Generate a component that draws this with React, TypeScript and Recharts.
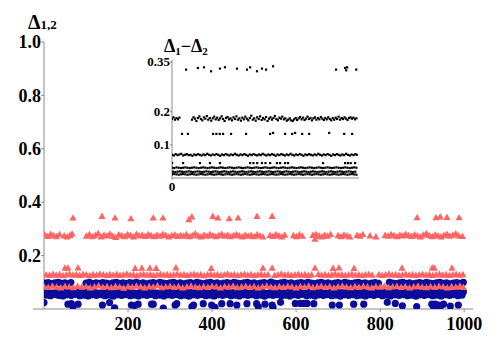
import { ScatterChart, Scatter, XAxis, YAxis, ReferenceLine } from 'recharts';

// main plot: red triangles
const redTop = [[69,.341],[138,.347],[169,.341],[207,.338],[260,.341],[283,.341],[345,.335],[352,.345],[402,.347],[414,.341],[441,.338],[462,.341],[507,.347],[543,.347],[888,.342],[933,.342],[943,.345],[959,.343],[988,.342]];
const redBand28 = [[2,.278],[9,.272],[16,.28],[23,.275],[30,.271],[37,.279],[48,.274],[55,.27],[62,.276],[67,.281],
  [101,.273],[108,.279],[115,.271],[122,.276],[129,.283],[136,.27],[143,.277],[150,.274],[157,.281],[164,.272],[171,.268],[178,.278],[185,.275],[192,.271],[199,.279],[206,.276],[213,.27],[220,.28],[227,.274],[234,.277],[241,.272],[248,.279],[255,.275],[262,.271],[269,.277],[276,.273],[283,.28],[290,.276],[297,.27],[304,.275],[311,.278],[318,.272],[325,.276],[332,.273],[339,.279],[346,.271],[353,.275],[360,.282],[367,.274],[374,.27],[381,.277],[388,.273],[395,.279],[402,.275],[409,.271],[416,.276],[423,.28],[430,.273],[437,.277],[444,.271],[451,.275],[458,.279],[465,.274],[472,.27],[479,.277],[486,.273],[493,.276],[500,.271],[507,.278],[514,.274],[521,.27],
  [538,.276],[545,.272],[552,.279],[559,.274],[566,.27],[573,.277],[594,.275],[601,.271],[608,.278],[615,.273],[640,.276],[645,.262],[647,.28],[654,.274],[661,.27],[668,.277],[675,.273],[682,.279],[700,.275],[707,.271],[714,.277],[721,.274],[728,.27],[745,.276],[752,.273],[759,.279],[776,.274],[790,.27],
  [812,.276],[819,.273],[826,.279],[833,.275],[840,.271],[847,.277],[854,.274],[861,.28],[868,.276],[875,.272],[882,.278],[889,.274],[896,.27],[903,.277],[910,.283],[917,.275],[924,.271],[931,.278],[938,.274],[945,.27],[952,.276],[959,.28],[966,.273],[973,.277],[980,.282],[987,.274],[996,.272]];
const redMid = [[50,.153],[57,.153],[81,.154],[217,.152],[233,.153],[252,.153],[267,.152],[314,.154],[398,.152],[521,.153],[543,.153],[645,.153],[688,.152],[702,.154],[738,.152],[852,.153],[924,.154],[929,.153],[971,.153]];
const redBand13 = [[5,.128],[13,.126],[21,.13],[29,.127],[37,.129],[45,.125],[53,.128],[61,.131],[69,.127],[77,.129],[85,.126],[93,.13],[101,.128],[109,.125],[117,.129],[125,.127],[133,.131],[141,.128],[149,.126],[157,.129],[165,.127],[173,.13],[181,.126],[189,.128],[197,.131],[205,.127],[213,.129],[221,.125],[229,.128],[237,.13],[245,.127],[253,.129],[261,.126],[269,.128],[277,.13],[285,.127],[293,.129],[301,.126],[309,.128],[317,.131],[325,.127],[333,.129],[341,.126],[349,.128],[357,.13],[365,.127],[373,.129],[381,.125],[389,.128],[397,.13],[405,.127],[413,.129],[421,.126],[429,.128],[437,.131],[445,.127],[453,.129],[461,.126],[469,.128],[477,.13],[485,.127],[493,.129],[501,.126],[509,.128],[517,.13],[525,.127],[533,.129],
  [549,.126],[557,.128],[565,.131],[573,.127],[581,.129],[589,.126],[597,.128],[605,.13],[613,.127],[621,.129],[629,.126],[637,.128],[653,.13],[661,.127],[669,.129],[677,.126],[685,.128],[693,.131],[701,.127],[709,.129],[717,.126],[725,.128],[733,.13],[741,.127],[749,.129],[757,.126],[765,.128],[773,.13],[781,.127],[797,.129],[805,.126],[813,.128],[821,.131],[829,.127],[837,.129],[845,.126],[853,.128],[861,.13],[869,.127],[877,.129],[885,.126],[893,.128],[901,.13],[909,.127],[917,.129],[925,.126],[933,.128],[941,.131],[949,.127],[957,.129],[965,.126],[973,.128],[981,.13],[989,.127],[997,.129]];
const redBand08 = [[0,.084],[10,.081],[20,.086],[30,.082],[40,.079],[50,.085],[60,.083],[70,.08],[80,.086],[90,.082],[100,.084],[110,.079],[120,.083],[130,.087],[140,.081],[150,.084],[160,.08],[170,.085],[180,.082],[190,.078],[200,.084],[210,.081],[220,.086],[230,.083],[240,.079],[250,.084],[260,.082],[270,.087],[280,.08],[290,.083],[300,.085],[310,.081],[320,.084],[330,.079],[340,.083],[350,.086],[360,.082],[370,.08],[380,.084],[390,.081],[400,.085],[410,.083],[420,.079],[430,.084],[440,.082],[450,.086],[460,.08],[470,.083],[480,.085],[490,.081],[500,.084],[510,.079],[520,.083],[530,.086],[540,.082],[550,.08],[560,.084],[570,.081],[580,.085],[590,.083],[600,.079],[610,.084],[620,.082],[630,.086],[640,.08],[650,.083],[660,.085],[670,.081],[680,.084],[690,.079],[700,.083],[710,.086],[720,.082],[730,.08],[740,.084],[750,.081],[760,.085],[770,.083],[780,.079],[790,.084],[800,.082],[810,.086],[820,.08],[830,.083],[840,.085],[850,.081],[860,.084],[870,.079],[880,.083],[890,.086],[900,.082],[910,.08],[920,.084],[930,.081],[940,.085],[950,.083],[960,.079],[970,.084],[980,.082],[990,.086],[998,.081]];

// main plot: blue circles
const blueBand10 = [[2,.097],[10,.099],[18,.095],[26,.098],[34,.1],[42,.096],[50,.098],[58,.095],[64,.099],
  [100,.097],[108,.1],[116,.095],[124,.098],[132,.096],[140,.099],[148,.097],[156,.094],[164,.098],[172,.1],[180,.096],[188,.098],[196,.095],[204,.099],[212,.097],[220,.1],[228,.096],[236,.098],[244,.094],[252,.097],[260,.099],[268,.096],[276,.1],[284,.097],[292,.095],[300,.098],[308,.1],[316,.096],[324,.098],[332,.094],[340,.097],[348,.099],[356,.096],[364,.1],[372,.097],[380,.095],[388,.098],[396,.1],[404,.096],[412,.098],[420,.094],[428,.097],[436,.099],[444,.096],[452,.1],[460,.097],[468,.095],[476,.098],[484,.1],[492,.096],[500,.098],[508,.094],[516,.097],[524,.099],[532,.096],[540,.101],[548,.097],[556,.095],[564,.098],[572,.1],[580,.096],[588,.098],[596,.094],[604,.097],[612,.099],[620,.096],[628,.1],[636,.097],[644,.095],[652,.098],[660,.1],[668,.096],[676,.098],[684,.094],[692,.097],[700,.099],[708,.096],[716,.1],[724,.097],[732,.095],[740,.098],[748,.1],[756,.096],[764,.098],[772,.094],[780,.097],[788,.099],[796,.096],
  [822,.1],[830,.097],[838,.095],[846,.098],[854,.1],[862,.096],[870,.098],[878,.094],[886,.097],[894,.099],[902,.096],[910,.1],[918,.097],[926,.095],[934,.098],[942,.1],[950,.096],[958,.098],[966,.094],[974,.097],[982,.099],[990,.096],[998,.1]];
const blueBand06a = [[0,.062],[10,.064],[20,.06],[30,.063],[40,.065],[50,.061],[60,.063],[70,.059],[80,.064],[90,.062],[100,.065],[110,.061],[120,.063],[130,.06],[140,.064],[150,.062],[160,.065],[170,.06],[180,.063],[190,.061],[200,.064],[210,.062],[220,.059],[230,.063],[240,.065],[250,.061],[260,.063],[270,.06],[280,.064],[290,.062],[300,.065],[310,.061],[320,.063],[330,.059],[340,.064],[350,.062],[360,.065],[370,.06],[380,.063],[390,.061],[400,.064],[410,.062],[420,.059],[430,.063],[440,.065],[450,.061],[460,.063],[470,.06],[480,.064],[490,.062],[500,.065],[510,.061],[520,.063],[530,.059],[540,.064],[550,.062],[560,.065],[570,.06],[580,.063],[590,.061],[600,.064],[610,.062],[620,.059],[630,.063],[640,.065],[650,.061],[660,.063],[670,.06],[680,.064],[690,.062],[700,.065],[710,.061],[720,.063],[730,.059],[740,.064],[750,.062],[760,.065],[770,.06],[780,.063],[790,.061],[800,.064],[810,.062],[820,.059],[830,.063],[840,.065],[850,.061],[860,.063],[870,.06],[880,.064],[890,.062],[900,.065],[910,.061],[920,.063],[930,.059],[940,.064],[950,.062],[960,.065],[970,.06],[980,.063],[990,.061],[998,.064]];
const blueBand06b = [[5,.052],[15,.05],[25,.054],[35,.051],[45,.049],[55,.053],[65,.051],[75,.055],[85,.05],[95,.052],[105,.049],[115,.053],[125,.051],[135,.054],[145,.05],[155,.052],[165,.048],[175,.053],[185,.051],[195,.054],[205,.05],[215,.052],[225,.049],[235,.053],[245,.051],[255,.055],[265,.05],[275,.052],[285,.049],[295,.053],[305,.051],[315,.054],[325,.05],[335,.052],[345,.048],[355,.053],[365,.051],[375,.054],[385,.05],[395,.052],[405,.049],[415,.053],[425,.051],[435,.055],[445,.05],[455,.052],[465,.049],[475,.053],[485,.051],[495,.054],[505,.05],[515,.052],[525,.048],[535,.053],[545,.051],[555,.054],[565,.05],[575,.052],[585,.049],[595,.053],[605,.051],[615,.055],[625,.05],[635,.052],[645,.049],[655,.053],[665,.051],[675,.054],[685,.05],[695,.052],[705,.048],[715,.053],[725,.051],[735,.054],[745,.05],[755,.052],[765,.049],[775,.053],[785,.051],[795,.055],[805,.05],[815,.052],[825,.049],[835,.053],[845,.051],[855,.054],[865,.05],[875,.052],[885,.048],[895,.053],[905,.051],[915,.054],[925,.05],[935,.052],[945,.049],[955,.053],[965,.051],[975,.054],[985,.05],[995,.052]];
const blueLow = [[0,.024],[57,.018],[65,.02],[69,.009],[81,.018],[139,.015],[156,.024],[168,.004],[208,.015],[216,.013],[224,.018],[256,.018],[260,.018],[284,.003],[312,.015],[316,.02],[352,.009],[356,.015],[379,.02],[399,.015],[407,.006],[423,.02],[443,.02],[459,.015],[483,.02],[506,.02],[510,.009],[526,.018],[543,.015],[545,.007],[563,.025],[598,.021],[610,.021],[618,.021],[626,.021],[642,.02],[686,.015],[703,.015],[737,.018],[761,.018],[817,.025],[836,.021],[853,.012],[887,.009],[923,.018],[927,.009],[931,.018],[935,.003],[939,.015],[943,.009],[951,.018],[967,.011],[986,.015]];

// inset: differences
const insetTop = [[76,.327],[140,.332],[173,.334],[211,.322],[259,.33],[286,.334],[351,.33],[405,.327],[422,.334],[459,.322],[486,.33],[508,.327],[546,.337],[886,.327],[935,.332],[941,.325],[946,.334],[995,.327]];
const insetBand18 = [[0,.178],[8,.183],[16,.176],[24,.181],[32,.177],[40,.182],
  [108,.176],[116,.183],[124,.179],[132,.172],[140,.181],[148,.186],[156,.178],[164,.174],[172,.183],[180,.179],[188,.187],[196,.176],[204,.181],[212,.173],[220,.18],[228,.185],[236,.177],[244,.182],[252,.175],[260,.18],[268,.186],[276,.178],[284,.172],[292,.181],[300,.184],[308,.177],[316,.18],[324,.174],[332,.183],[340,.178],[348,.186],[356,.176],[364,.18],[372,.173],[380,.182],[388,.177],[396,.185],[404,.179],[412,.174],[420,.181],[428,.188],[436,.176],[444,.18],[452,.173],[460,.183],[468,.178],[476,.186],[484,.175],[492,.181],[500,.177],[508,.184],[516,.172],[524,.179],[532,.183],[540,.176],[548,.181],[556,.187],[564,.178],[572,.174],[580,.182],[588,.179],[596,.185],[604,.177],[612,.18],[620,.173],[628,.176],[636,.18],[644,.174],[652,.172],[660,.177],[668,.181],[676,.175],[684,.18],[692,.184],[700,.177],[708,.182],[716,.175],[724,.179],[732,.185],[740,.178],[748,.181],[756,.174],[764,.18],[772,.183],[780,.176],[788,.181],[796,.177],[804,.184],[812,.179],[820,.175],[828,.181],[836,.177],[844,.183],[852,.178],[860,.174],[868,.181],[876,.176],[884,.182],[892,.178],[900,.185],[908,.176],[916,.181],[924,.178],[932,.183],[940,.179],[948,.175],[956,.181],[964,.183],[972,.179],[980,.182],[988,.177],[996,.18]];
const insetMid = [[54,.133],[86,.133],[222,.133],[240,.133],[258,.133],[276,.133],[319,.133],[400,.133],[530,.133],[546,.136],[611,.133],[649,.133],[665,.136],[703,.133],[741,.133],[849,.136],[930,.133],[973,.133]];
const insetBand07 = [[0,.07],[10,.068],[20,.072],[30,.069],[40,.071],[50,.073],[60,.068],[70,.07],[80,.072],[90,.069],[100,.07],[110,.067],[120,.071],[130,.069],[140,.072],[150,.07],[160,.068],[170,.071],[180,.069],[190,.073],[200,.07],[210,.068],[220,.071],[230,.069],[240,.072],[250,.07],[260,.067],[270,.071],[280,.069],[290,.072],[300,.07],[310,.068],[320,.071],[330,.069],[340,.073],[350,.07],[360,.068],[370,.071],[380,.069],[390,.072],[400,.07],[410,.067],[420,.071],[430,.069],[440,.072],[450,.07],[460,.068],[470,.071],[480,.069],[490,.073],[500,.07],[510,.068],[520,.071],[530,.069],[540,.072],[550,.07],[560,.067],[570,.071],[580,.069],[590,.072],[600,.07],[610,.068],[620,.071],[630,.069],[640,.073],[650,.07],[660,.068],[670,.071],[680,.069],[690,.072],[700,.07],[710,.067],[720,.071],[730,.069],[740,.072],[750,.07],[760,.068],[770,.071],[780,.069],[790,.073],[800,.07],[810,.068],[820,.071],[830,.069],[840,.072],[850,.07],[860,.067],[870,.071],[880,.069],[890,.072],[900,.07],[910,.068],[920,.071],[930,.069],[940,.073],[950,.07],[960,.068],[970,.071],[980,.069],[990,.072],[998,.07]];
const insetLow45 = [[0,.045],[60,.045],[151,.045],[205,.045],[259,.045],[422,.045],[440,.045],[460,.045],[486,.045],[505,.045],[530,.045],[567,.045],[584,.045],[611,.045],[627,.045],[816,.045],[935,.045],[950,.045],[965,.045],[989,.045]];
const insetBand03 = [[0,.031],[12,.03],[24,.032],[36,.031],[48,.03],[60,.031],[72,.032],[84,.031],[96,.03],[108,.031],[120,.032],[132,.031],[144,.03],[156,.031],[168,.032],[180,.031],[192,.03],[204,.031],[216,.032],[228,.031],[240,.03],[252,.031],[264,.032],[276,.031],[288,.03],[300,.031],[312,.032],[324,.031],[336,.03],[348,.031],[360,.032],[372,.031],[384,.03],[396,.031],[408,.032],[420,.031],[432,.03],[444,.031],[456,.032],[468,.031],[480,.03],[492,.031],[504,.032],[516,.031],[528,.03],[540,.031],[552,.032],[564,.031],[576,.03],[588,.031],[600,.032],[612,.031],[624,.03],[636,.031],[648,.032],[660,.031],[672,.03],[684,.031],[696,.032],[708,.031],[720,.03],[732,.031],[744,.032],[756,.031],[768,.03],[780,.031],[792,.032],[804,.031],[816,.03],[828,.031],[840,.032],[852,.031],[864,.03],[876,.031],[888,.032],[900,.031],[912,.03],[924,.031],[936,.032],[948,.031],[960,.03],[972,.031],[984,.032],[996,.031]];
const insetBand02 = [[6,.019],[18,.018],[30,.019],[42,.02],[54,.019],[66,.018],[78,.019],[90,.02],[102,.019],[114,.018],[126,.019],[138,.02],[150,.019],[162,.018],[174,.019],[186,.02],[198,.019],[210,.018],[222,.019],[234,.02],[246,.019],[258,.018],[270,.019],[282,.02],[294,.019],[306,.018],[318,.019],[330,.02],[342,.019],[354,.018],[366,.019],[378,.02],[390,.019],[402,.018],[414,.019],[426,.02],[438,.019],[450,.018],[462,.019],[474,.02],[486,.019],[498,.018],[510,.019],[522,.02],[534,.019],[546,.018],[558,.019],[570,.02],[582,.019],[594,.018],[606,.019],[618,.02],[630,.019],[642,.018],[654,.019],[666,.02],[678,.019],[690,.018],[702,.019],[714,.02],[726,.019],[738,.018],[750,.019],[762,.02],[774,.019],[786,.018],[798,.019],[810,.02],[822,.019],[834,.018],[846,.019],[858,.02],[870,.019],[882,.018],[894,.019],[906,.02],[918,.019],[930,.018],[942,.019],[954,.02],[966,.019],[978,.018],[990,.019]];
const insetBand01 = [[0,.011],[12,.012],[24,.011],[36,.01],[48,.011],[60,.012],[72,.011],[84,.01],[96,.011],[108,.012],[120,.011],[132,.01],[144,.011],[156,.012],[168,.011],[180,.01],[192,.011],[204,.012],[216,.011],[228,.01],[240,.011],[252,.012],[264,.011],[276,.01],[288,.011],[300,.012],[312,.011],[324,.01],[336,.011],[348,.012],[360,.011],[372,.01],[384,.011],[396,.012],[408,.011],[420,.01],[432,.011],[444,.012],[456,.011],[468,.01],[480,.011],[492,.012],[504,.011],[516,.01],[528,.011],[540,.012],[552,.011],[564,.01],[576,.011],[588,.012],[600,.011],[612,.01],[624,.011],[636,.012],[648,.011],[660,.01],[672,.011],[684,.012],[696,.011],[708,.01],[720,.011],[732,.012],[744,.011],[756,.01],[768,.011],[780,.012],[792,.011],[804,.01],[816,.011],[828,.012],[840,.011],[852,.01],[864,.011],[876,.012],[888,.011],[900,.01],[912,.011],[924,.012],[936,.011],[948,.01],[960,.011],[972,.012],[984,.011],[996,.01]];

const mainXTicks = [200, 400, 600, 800, 1000];
const mainYTicks = [0.2, 0.4, 0.6, 0.8, 1.0];
const insetXTicks = [0];
const insetYTicks = [0.1, 0.2, 0.35];

const RED = '#ff6464';
const BLUE = '#0c0c9c';
const AXIS = '#8c8c8c';
const SERIF = '"Liberation Serif", "Times New Roman", serif';

const pts = (a: number[][]) => a.map(([x, y]) => ({ x, y }));

const Tri = (p: any) => (
  <polygon points={`${p.cx},${p.cy - 3.8} ${p.cx + 3.6},${p.cy + 2.6} ${p.cx - 3.6},${p.cy + 2.6}`} fill={RED} />
);
const Dot = (p: any) => <circle cx={p.cx} cy={p.cy} r={3.6} fill={BLUE} />;
const Sq = (p: any) => <rect x={p.cx - 1.1} y={p.cy - 1.1} width={2.2} height={2.2} fill="#000" />;

// serif bold tick labels, drawn by hand so the font sticks
function XTick({ x, y, payload, size }: any) {
  return (
    <text x={x} y={y} dy={size * 0.72} textAnchor="middle"
      style={{ fontFamily: SERIF, fontWeight: 'bold', fontSize: size, fill: '#000' }}>
      {payload.value}
    </text>
  );
}
function YTick({ x, y, payload, size, fixed }: any) {
  const v = fixed ? payload.value.toFixed(1) : String(payload.value);
  return (
    <text x={x} y={y} dy={size * 0.34} textAnchor="end"
      style={{ fontFamily: SERIF, fontWeight: 'bold', fontSize: size, fill: '#000' }}>
      {v}
    </text>
  );
}

export default function App() {
  const blue = [blueBand10, blueBand06a, blueBand06b, blueLow];
  const red = [redTop, redBand28, redMid, redBand13, redBand08];
  const inset = [insetTop, insetBand18, insetMid, insetBand07, insetLow45, insetBand03, insetBand02, insetBand01];
  return (
    <div style={{ position: 'absolute', left: 0, top: 0, width: 498, height: 344, background: '#fff', fontFamily: SERIF }}>
      <ScatterChart width={498} height={344} margin={{ top: 42, right: 25, bottom: 5, left: 0 }}>
        <XAxis type="number" dataKey="x" domain={[0, 1021]} ticks={mainXTicks} interval={0} allowDataOverflow
          height={30} tickSize={3} tickMargin={5} stroke={AXIS} tick={<XTick size={18} />} />
        <YAxis type="number" dataKey="y" domain={[0, 1]} ticks={mainYTicks} interval={0} allowDataOverflow
          width={44} tickSize={3} tickMargin={0} stroke={AXIS} tick={<YTick size={18} fixed />} />
        <ReferenceLine segment={[{ x: -26, y: 0 }, { x: 0, y: 0 }]} stroke={AXIS} ifOverflow="visible" />
        {blue.map((d, i) => (
          <Scatter key={'b' + i} data={pts(d)} shape={Dot} isAnimationActive={false} />
        ))}
        {red.map((d, i) => (
          <Scatter key={'r' + i} data={pts(d)} shape={Tri} isAnimationActive={false} />
        ))}
      </ScatterChart>

      <div style={{ position: 'absolute', left: 130, top: 50 }}>
        <ScatterChart width={240} height={145} margin={{ top: 10, right: 11, bottom: 0, left: 0 }}>
          <XAxis type="number" dataKey="x" domain={[0, 1010]} ticks={insetXTicks} interval={0} allowDataOverflow
            height={17} tickSize={2} tickMargin={2} stroke={AXIS} tick={<XTick size={13} />} />
          <YAxis type="number" dataKey="y" domain={[0, 0.356]} ticks={insetYTicks} interval={0} allowDataOverflow
            width={42} tickSize={2} tickMargin={0} stroke={AXIS} tick={<YTick size={13} />} />
          {inset.map((d, i) => (
            <Scatter key={'i' + i} data={pts(d)} shape={Sq} isAnimationActive={false} />
          ))}
        </ScatterChart>
      </div>

      <div style={{ position: 'absolute', left: 28, top: 16, fontWeight: 'bold', fontSize: 20, lineHeight: '12px', whiteSpace: 'nowrap' }}>
        Δ<span style={{ fontSize: 13 }}>1,2</span>
      </div>
      <div style={{ position: 'absolute', left: 164, top: 37, fontWeight: 'bold', fontSize: 18, lineHeight: '18px', whiteSpace: 'nowrap' }}>
        Δ<span style={{ fontSize: 11, position: 'relative', top: 3 }}>1</span>−Δ<span style={{ fontSize: 11, position: 'relative', top: 3 }}>2</span>
      </div>
    </div>
  );
}
